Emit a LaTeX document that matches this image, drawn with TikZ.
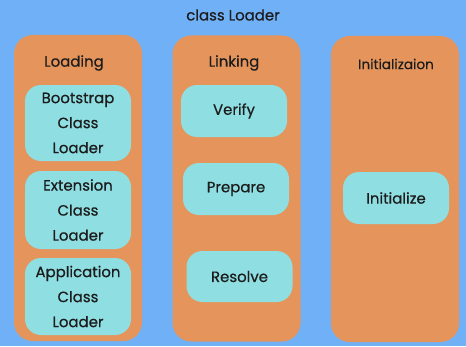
\documentclass[tikz,border=0pt]{standalone}
\usepackage{fontspec}
\setmainfont{Poppins}
\newfontface\roundfont{Poppins}[FakeBold=0.6]
\usetikzlibrary{positioning}
\definecolor{bgblue}{HTML}{70B0F6}
\definecolor{stageorange}{HTML}{E5955C}
\definecolor{loadercyan}{HTML}{8EDEE2}
\definecolor{inkdark}{HTML}{1C1C1C}
\tikzset{
  stage/.style={fill=stageorange,rounded corners=14pt,minimum width=96pt,minimum height=229.5pt,inner sep=0pt},
  loader/.style={fill=loadercyan,rounded corners=12pt,align=center,inner sep=0pt,text=inkdark,
    font=\roundfont\fontsize{11.2}{18.75}\selectfont},
  caption/.style={text=inkdark,font=\roundfont\fontsize{11.2}{13}\selectfont},
}
\begin{document}
\begin{tikzpicture}[x=0.75pt,y=-0.75pt]
    \fill[bgblue] (0,0) rectangle (466,346);
    \node[caption] (title) at (233,15) {class Loader};

    % stages
    \node[stage] (loading) at (78,188) {};
    \node[stage] (linking) at (236.5,188.5) {};
    \node[stage] (init) at (395,189) {};
    \node[caption] (loadingtitle) at (74,63) {Loading};
    \node[caption] (linkingtitle) at (234,63) {Linking};
    \node[caption,font=\roundfont\fontsize{10.2}{12}\selectfont] (inittitle) at (396,64) {Initializaion};

    % loaders
    \node[loader,minimum width=79.5pt,minimum height=57pt] (boot) at (78,123) {Bootstrap\\Class\\Loader};
    \node[loader,minimum width=79.5pt,minimum height=58.5pt] (ext) at (78,210) {Extension\\Class\\Loader};
    \node[loader,minimum width=79.5pt,minimum height=57.75pt] (app) at (78,296.5) {Application\\Class\\Loader};

    % linking steps
    \node[loader,minimum width=79.5pt,minimum height=39pt] (verify) at (234,111) {Verify};
    \node[loader,minimum width=79.5pt,minimum height=39pt] (prepare) at (236,189) {Prepare};
    \node[loader,minimum width=79.5pt,minimum height=38.25pt] (resolve) at (239.5,276.5) {Resolve};

    \node[loader,minimum width=79.5pt,minimum height=39pt] (initialize) at (396,198) {Initialize};
\end{tikzpicture}
\end{document}
